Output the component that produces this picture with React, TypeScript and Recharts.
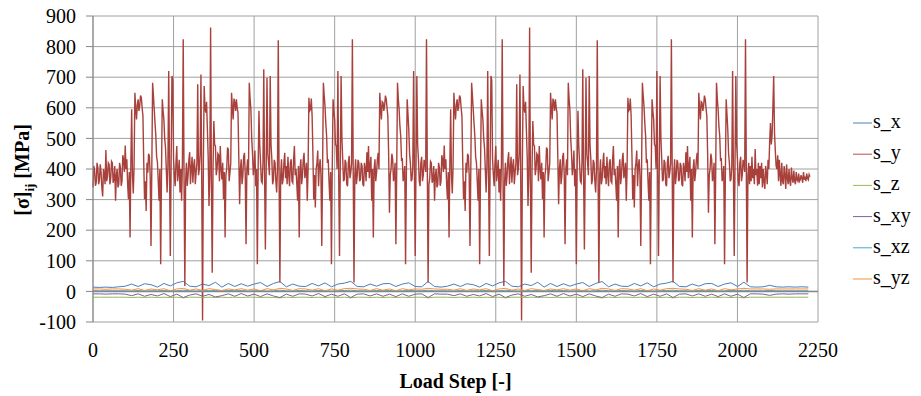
import React from 'react';
import {
  CartesianGrid,
  Line,
  LineChart,
  ReferenceLine,
  XAxis,
  YAxis,
} from 'recharts';

// load step spacing of the sampled values
const STEP_Y = 2.5;
const STEP_SMALL = 20;

const X_TICKS = [0, 250, 500, 750, 1000, 1250, 1500, 1750, 2000, 2250];
const Y_TICKS = [-100, 0, 100, 200, 300, 400, 500, 600, 700, 800, 900];

// s_y, load steps 0..1040 (one row = 100 steps)
const S_Y_CYCLE1 = [
  340, 410, 395, 345, 355, 420, 405, 350, 365, 415, 390, 340, 310, 400, 385, 350, 462, 360, 375, 420,
  415, 350, 370, 425, 420, 355, 365, 410, 296, 380, 400, 340, 350, 420, 405, 345, 360, 445, 430, 390,
  477, 400, 432, 350, 301, 390, 176, 420, 595, 380, 320, 410, 649, 600, 562, 610, 628, 590, 606, 640,
  633, 600, 573, 420, 301, 360, 263, 420, 388, 450, 443, 380, 148, 400, 682, 640, 595, 550, 508, 440,
  421, 360, 296, 400, 89, 380, 628, 590, 562, 500, 470, 400, 323, 410, 720, 400, 116, 420, 704, 690,
  432, 380, 344, 420, 475, 360, 388, 430, 323, 400, 296, 420, 824, 380, 18, 360, 420, 345, 377, 430,
  455, 350, 400, 440, 355, 410, 432, 350, 388, 420, 677, 380, 400, 450, 709, 350, -95, 420, 671, 600,
  584, 620, 530, 440, 279, 380, 862, 360, 61, 400, 557, 480, 475, 380, 400, 450, 445, 360, 475, 400,
  366, 420, 301, 390, 176, 380, 400, 470, 464, 360, 388, 420, 649, 600, 562, 630, 617, 590, 628, 600,
  584, 440, 285, 400, 432, 350, 377, 440, 453, 380, 154, 400, 432, 380, 682, 630, 595, 500, 453, 380,
  410, 460, 344, 400, 89, 400, 590, 480, 420, 360, 355, 420, 726, 380, 137, 400, 698, 450, 420, 380,
  704, 480, 432, 350, 366, 430, 420, 360, 323, 400, 821, 380, 29, 380, 432, 350, 366, 420, 453, 370,
  410, 350, 440, 380, 344, 420, 432, 360, 355, 430, 475, 380, 400, 350, 296, 410, 176, 400, 432, 350,
  377, 430, 453, 370, 388, 420, 296, 400, 633, 590, 595, 630, 573, 450, 300, 380, 274, 400, 420, 460,
  344, 410, 432, 380, 148, 400, 682, 640, 606, 550, 508, 420, 432, 360, 296, 390, 89, 400, 628, 590,
  562, 480, 475, 400, 720, 380, 116, 420, 704, 500, 432, 360, 366, 430, 420, 350, 344, 420, 443, 370,
  388, 420, 824, 400, 29, 380, 432, 350, 377, 430, 420, 360, 366, 420, 410, 350, 344, 420, 400, 360,
  455, 390, 475, 370, 410, 440, 296, 400, 176, 400, 432, 360, 388, 430, 453, 400, 649, 600, 562, 620,
  617, 590, 606, 640, 628, 600, 573, 450, 257, 380, 400, 450, 432, 360, 377, 420, 154, 390, 682, 630,
  595, 540, 508, 430, 432, 360, 377, 410, 89, 380, 628, 580, 530, 450, 420, 360, 366, 410, 720, 390,
  116, 420, 704, 480, 432, 360, 344, 420, 440, 360, 380, 430, 420, 390, 824, 400, 29,
];

// s_y, load steps 1042.5..2025 (the load block repeats)
const S_Y_CYCLE2 = [
  350, 370, 425, 420, 355, 365, 410, 296, 380, 400, 340, 350, 420, 405, 345, 360, 445, 430, 390,
  477, 400, 432, 350, 301, 390, 176, 420, 595, 380, 320, 410, 649, 600, 562, 610, 628, 590, 606, 640,
  633, 600, 573, 420, 301, 360, 263, 420, 388, 450, 443, 380, 148, 400, 682, 640, 595, 550, 508, 440,
  421, 360, 296, 400, 89, 380, 628, 590, 562, 500, 470, 400, 323, 410, 720, 400, 116, 420, 704, 690,
  432, 380, 344, 420, 475, 360, 388, 430, 323, 400, 296, 420, 824, 380, 18, 360, 420, 345, 377, 430,
  455, 350, 400, 440, 355, 410, 432, 350, 388, 420, 677, 380, 400, 450, 709, 350, -95, 420, 671, 600,
  584, 620, 530, 440, 279, 380, 862, 360, 61, 400, 557, 480, 475, 380, 400, 450, 445, 360, 475, 400,
  366, 420, 301, 390, 176, 380, 400, 470, 464, 360, 388, 420, 649, 600, 562, 630, 617, 590, 628, 600,
  584, 440, 285, 400, 432, 350, 377, 440, 453, 380, 154, 400, 432, 380, 682, 630, 595, 500, 453, 380,
  410, 460, 344, 400, 89, 400, 590, 480, 420, 360, 355, 420, 726, 380, 137, 400, 698, 450, 420, 380,
  704, 480, 432, 350, 366, 430, 420, 360, 323, 400, 821, 380, 29, 380, 432, 350, 366, 420, 453, 370,
  410, 350, 440, 380, 344, 420, 432, 360, 355, 430, 475, 380, 400, 350, 296, 410, 176, 400, 432, 350,
  377, 430, 453, 370, 388, 420, 296, 400, 633, 590, 595, 630, 573, 450, 300, 380, 274, 400, 420, 460,
  344, 410, 432, 380, 148, 400, 682, 640, 606, 550, 508, 420, 432, 360, 296, 390, 89, 400, 628, 590,
  562, 480, 475, 400, 720, 380, 116, 420, 704, 500, 432, 360, 366, 430, 420, 350, 344, 420, 443, 370,
  388, 420, 824, 400, 29, 380, 432, 350, 377, 430, 420, 360, 366, 420, 410, 350, 344, 420, 400, 360,
  455, 390, 475, 370, 410, 440, 296, 400, 176, 400, 432, 360, 388, 430, 453, 400, 649, 600, 562, 620,
  617, 590, 606, 640, 628, 600, 573, 450, 257, 380, 400, 450, 432, 360, 377, 420, 154, 390, 682, 630,
  595, 540, 508, 430, 432, 360, 377, 410, 89, 380, 628, 580, 530, 450, 420, 360, 366, 410, 720, 390,
  116, 420, 704, 480, 432, 360, 344, 420, 440, 360, 380, 430, 420, 390, 824,
];

// s_y, load steps 2027.5..2225
const S_Y_TAIL = [
  400, 29, 380, 420, 350, 410, 360, 440, 370, 400,
  350, 465, 380, 400, 345, 420, 350, 410, 370, 420,
  340, 400, 360, 335, 410, 385, 350, 430, 400, 490,
  550, 480, 510, 600, 704, 520, 460, 410, 400, 445,
  360, 430, 380, 345, 420, 360, 350, 410, 380, 335,
  415, 370, 350, 400, 360, 345, 405, 370, 355, 395,
  360, 350, 390, 365, 360, 385, 360, 365, 380, 370,
  355, 390, 365, 375, 360, 385, 370, 365, 382, 375,
];

// small components, load steps 0..2220 every 20
const S_X = [
  14, 13, 14, 13, 15, 17, 24, 16, 25, 22,
  14, 26, 18, 28, 33, 17, 15, 24, 19, 30,
  14, 26, 16, 25, 17, 24, 29, 16, 26, 32,
  15, 24, 17, 16, 26, 18, 28, 15, 24, 27,
  33, 16, 15, 24, 17, 25, 26, 16, 24, 28,
  16, 15, 32, 16, 14, 17, 24, 16, 25, 22,
  14, 26, 18, 28, 33, 17, 15, 24, 19, 30,
  14, 26, 16, 25, 17, 24, 29, 16, 26, 32,
  15, 24, 17, 16, 26, 18, 28, 15, 24, 27,
  33, 16, 15, 24, 17, 25, 26, 16, 24, 28,
  16, 30, 15, 14, 15, 20, 15, 14, 15, 14,
  15, 14,
];

const S_Z = [
  -19, -19, -19, -19, -19, -19, -20, -19, -20, -19,
  -20, -19, -20, -19, -21, -19, -19, -20, -19, -20,
  -19, -20, -19, -20, -19, -19, -20, -19, -20, -21,
  -19, -20, -19, -19, -20, -19, -20, -19, -20, -19,
  -21, -19, -19, -20, -19, -20, -19, -20, -19, -20,
  -19, -19, -21, -19, -19, -19, -20, -19, -20, -19,
  -20, -19, -20, -19, -21, -19, -19, -20, -19, -20,
  -19, -20, -19, -20, -19, -19, -20, -19, -20, -21,
  -19, -20, -19, -19, -20, -19, -20, -19, -20, -19,
  -21, -19, -19, -20, -19, -20, -19, -20, -19, -20,
  -19, -21, -19, -19, -19, -19, -19, -19, -19, -19,
  -19, -19,
];

const S_XY = [
  -8, -8, -9, -8, -8, -9, -14, -8, -16, -10,
  -15, -7, -17, -9, -20, -12, -8, -16, -10, -18,
  -14, -8, -16, -7, -15, -9, -17, -8, -15, -20,
  -9, -16, -8, -9, -15, -7, -17, -9, -16, -8,
  -20, -9, -8, -15, -8, -16, -9, -17, -8, -16,
  -9, -8, -20, -8, -9, -9, -14, -8, -16, -10,
  -15, -7, -17, -9, -20, -12, -8, -16, -10, -18,
  -14, -8, -16, -7, -15, -9, -17, -8, -15, -20,
  -9, -16, -8, -9, -15, -7, -17, -9, -16, -8,
  -20, -9, -8, -15, -8, -16, -9, -17, -8, -16,
  -9, -20, -8, -8, -9, -13, -9, -8, -9, -8,
  -8, -8,
];

const S_XZ = [
  2, 2, 2, 2, 2, 2, 1, 3, 1, 2,
  2, 3, 1, 2, 4, 2, 1, 3, 2, 3,
  1, 3, 2, 3, 1, 2, 3, 1, 2, 4,
  2, 1, 3, 2, 1, 3, 2, 1, 2, 3,
  4, 2, 2, 1, 3, 2, 3, 1, 2, 3,
  2, 2, 4, 2, 2, 2, 1, 3, 1, 2,
  2, 3, 1, 2, 4, 2, 1, 3, 2, 3,
  1, 3, 2, 3, 1, 2, 3, 1, 2, 4,
  2, 1, 3, 2, 1, 3, 2, 1, 2, 3,
  4, 2, 2, 1, 3, 2, 3, 1, 2, 3,
  2, 4, 2, 2, 2, 3, 2, 2, 2, 2,
  2, 2,
];

const S_YZ = [
  8, 8, 7, 8, 8, 7, 4, 9, 3, 8,
  5, 9, 2, 8, 10, 4, 8, 3, 9, 6,
  3, 8, 5, 9, 4, 8, 2, 9, 5, 10,
  8, 3, 9, 8, 4, 9, 2, 8, 4, 9,
  10, 8, 7, 3, 9, 4, 8, 2, 9, 5,
  8, 7, 10, 8, 7, 7, 4, 9, 3, 8,
  5, 9, 2, 8, 10, 4, 8, 3, 9, 6,
  3, 8, 5, 9, 4, 8, 2, 9, 5, 10,
  8, 3, 9, 8, 4, 9, 2, 8, 4, 9,
  10, 8, 7, 3, 9, 4, 8, 2, 9, 5,
  8, 10, 8, 8, 8, 7, 8, 8, 8, 8,
  8, 8,
];

const SERIES_NAMES = ['s_x', 's_y', 's_z', 's_xy', 's_xz', 's_yz'];
const COLORS = ['#4A7EBB', '#A8403C', '#98B954', '#7D60A0', '#46AAC5', '#F69240'];
const LEGEND_COLORS = ['#4A7EBB', '#BE4B48', '#98B954', '#7D60A0', '#46AAC5', '#F69240'];

const toPoints = (values: number[], step: number) =>
  values.map((v, i) => ({ s: i * step, v }));

const S_Y = [...S_Y_CYCLE1, ...S_Y_CYCLE2, ...S_Y_TAIL];

const seriesData = [
  toPoints(S_X, STEP_SMALL),
  toPoints(S_Y, STEP_Y),
  toPoints(S_Z, STEP_SMALL),
  toPoints(S_XY, STEP_SMALL),
  toPoints(S_XZ, STEP_SMALL),
  toPoints(S_YZ, STEP_SMALL),
];

const FONT = "'Liberation Serif', 'DejaVu Serif', serif";
const tickStyle = { fontSize: 20, fill: '#000', style: { fontFamily: FONT } };

function YTitle() {
  return (
    <text
      transform="translate(29,170) rotate(-90)"
      textAnchor="middle"
      style={{ fontFamily: FONT, fontWeight: 'bold', fontSize: 20 }}
      fill="#000"
    >
      [σ]
      <tspan fontSize={13} dy={5}>ij</tspan>
      <tspan dy={-5}> [MPa]</tspan>
    </text>
  );
}

function LegendBox() {
  return (
    <svg
      width={70}
      height={200}
      style={{ position: 'absolute', left: 850, top: 100 }}
    >
      {SERIES_NAMES.map((name, i) => {
        const y = 23 + i * 31.2;
        return (
          <g key={name}>
            <line x1={3} x2={22} y1={y} y2={y} stroke={LEGEND_COLORS[i]} strokeWidth={1} />
            <text x={23} y={y + 5} style={{ fontFamily: FONT, fontSize: 20 }} fill="#000">
              {name}
            </text>
          </g>
        );
      })}
    </svg>
  );
}

export default function App() {
  return (
    <div style={{ position: 'absolute', left: 0, top: 0, width: 921, height: 396, background: '#fff', fontFamily: FONT }}>
      <LineChart width={921} height={396} margin={{ top: 16, right: 103, left: 33, bottom: 0 }}>
        <CartesianGrid stroke="#A0A0A0" strokeWidth={1} />
        <XAxis
          type="number"
          dataKey="s"
          domain={[0, 2250]}
          ticks={X_TICKS}
          height={74}
          axisLine={false}
          tickLine={false}
          tickSize={10}
          tickMargin={11}
          tick={tickStyle}
          allowDuplicatedCategory={false}
          label={{
            value: 'Load Step [-]',
            position: 'insideBottom',
            offset: 8,
            style: { fontSize: 20, fontWeight: 'bold', fontFamily: FONT, fill: '#000' },
          }}
        />
        <YAxis
          type="number"
          dataKey="v"
          domain={[-100, 900]}
          ticks={Y_TICKS}
          width={60}
          axisLine={{ stroke: '#868686' }}
          tickLine={{ stroke: '#868686' }}
          tickSize={7}
          tickMargin={10}
          tick={tickStyle}
          label={<YTitle />}
        />
        {seriesData.map((data, i) => (
          <Line
            key={SERIES_NAMES[i]}
            data={data}
            dataKey="v"
            name={SERIES_NAMES[i]}
            type="linear"
            stroke={COLORS[i]}
            strokeWidth={i === 1 ? 1.4 : 1}
            dot={false}
            activeDot={false}
            isAnimationActive={false}
          />
        ))}
        <ReferenceLine y={0} stroke="#868686" strokeWidth={1.5} />
      </LineChart>
      <LegendBox />
    </div>
  );
}
